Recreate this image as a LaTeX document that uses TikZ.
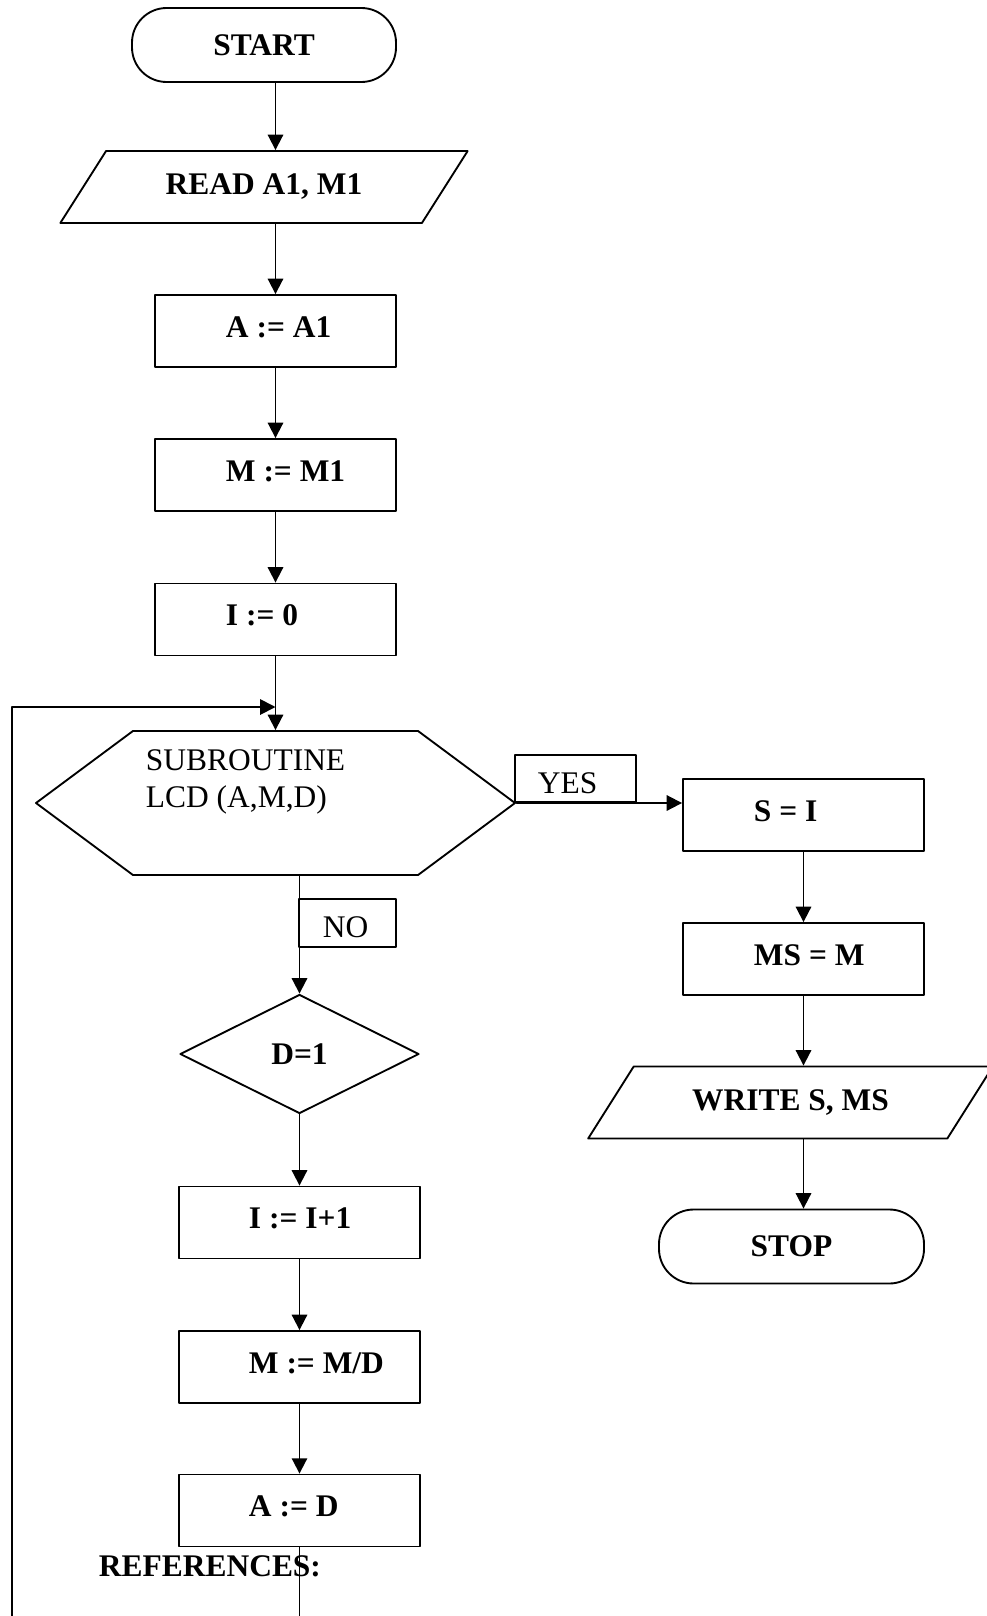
\documentclass[tikz,border=0pt]{standalone}
\usepackage{fontspec}
\setmainfont{Liberation Serif}
\usepackage{tikz}
\usetikzlibrary{arrows.meta,shapes.geometric,shapes.symbols}

\begin{document}
\fontsize{23.6}{27.75}\selectfont
\begin{tikzpicture}[line cap=round,line join=round,>={Triangle[length=11.5pt,width=11.5pt]},x=0.75pt,y=-0.75pt,line width=1.4pt,
  box/.style={draw,rectangle,inner sep=0pt,minimum width=180.75pt,minimum height=54pt},
  term/.style={draw,rectangle,rounded corners=26pt,inner sep=0pt,minimum height=55.5pt,font=\bfseries},
  io/.style={draw,trapezium,trapezium left angle=42,trapezium right angle=138,trapezium stretches=true,inner sep=0pt,minimum height=54pt,font=\bfseries},
  lbl/.style={anchor=base west,inner sep=0pt,font=\bfseries},
  tag/.style={draw,rectangle,inner sep=0pt}]
\useasboundingbox (0,0) rectangle (987,1616);
% main column
\node[term,minimum width=198pt] (start) at (264,45) {START};
\node[io,minimum width=306pt] (read) at (264,187) {READ A1, M1};
\node[box] (ia) at (275.5,331) {};
\node[lbl] (ia-t) at (225,337) {A := A1};
\node[box] (im) at (275.5,475) {};
\node[lbl] (im-t) at (225,481) {M := M1};
\node[box] (ii) at (275.5,619.5) {};
\node[lbl] (ii-t) at (225,625) {I := 0};
\coordinate (join) at (275.5,707);
\node[draw,signal,signal to=east and west,signal pointer angle=73.2,inner sep=0pt,
  minimum width=359.25pt,minimum height=108pt] (sub) at (275.5,803) {};
\node[anchor=north west,inner sep=0pt,align=left] (sub-t) at (145,749) {SUBROUTINE\\LCD (A,M,D)};
% yes / no tags
\node[tag,minimum width=90.75pt,minimum height=35.25pt] (yes) at (575.5,778.5) {};
\node[tag,minimum width=72.75pt,minimum height=36pt] (no) at (347.5,923) {};
\begin{scope}
\clip (yes.north west) rectangle (yes.east |- 0,793);
\node[anchor=base west,inner sep=0pt] (yes-t) at (537,793) {YES};
\end{scope}
\begin{scope}
\clip (no.north west) rectangle (no.east |- 0,937);
\node[anchor=base west,inner sep=0pt] (no-t) at (322,937) {NO};
\end{scope}
% loop body
\node[draw,diamond,inner sep=0pt,minimum width=179.25pt,minimum height=89.25pt,font=\bfseries] (d1) at (299.5,1054) {D=1};
\node[box] (inc) at (299.5,1222.5) {};
\node[lbl] (inc-t) at (248,1228) {I := I+1};
\node[box] (md) at (299.5,1367) {};
\node[lbl] (md-t) at (248,1373) {M := M/D};
\node[box] (ad) at (299.5,1510.5) {};
\node[lbl] (ad-t) at (248,1516) {A := D};
\node[lbl] (refs) at (98,1576) {REFERENCES:};
\coordinate (low) at (12,1660);
% right column
\node[box] (si) at (803.5,815) {};
\node[lbl] (si-t) at (753,821) {S = I};
\node[box] (ms) at (803.5,959) {};
\node[lbl] (ms-t) at (753,965) {MS = M};
\node[io,minimum width=303.75pt] (wr) at (790.5,1102.5) {WRITE S, MS};
\node[term,minimum width=198.75pt] (stop) at (791.5,1246.5) {STOP};
% connectors
\draw[->] (start.south -| ia.north) -- (read.north -| ia.north);
\draw[->] (read.south -| ia.north) -- (ia.north);
\draw[->] (ia) -- (im);
\draw[->] (im) -- (ii);
\draw[->] (ii) -- (sub.north -| ii.south);
\draw[->] (ad.south) |- (low) |- (join);
\draw[->] (sub.east) -- (sub.east -| si.west);
\draw[->] (sub.south -| d1.north) -- (d1.north);
\draw[->] (d1) -- (inc);
\draw[->] (inc) -- (md);
\draw[->] (md) -- (ad);
\draw[->] (si) -- (ms);
\draw[->] (ms.south) -- (wr.north -| ms.south);
\draw[->] (wr.south -| ms.south) -- (stop.north -| ms.south);
\end{tikzpicture}
\end{document}
